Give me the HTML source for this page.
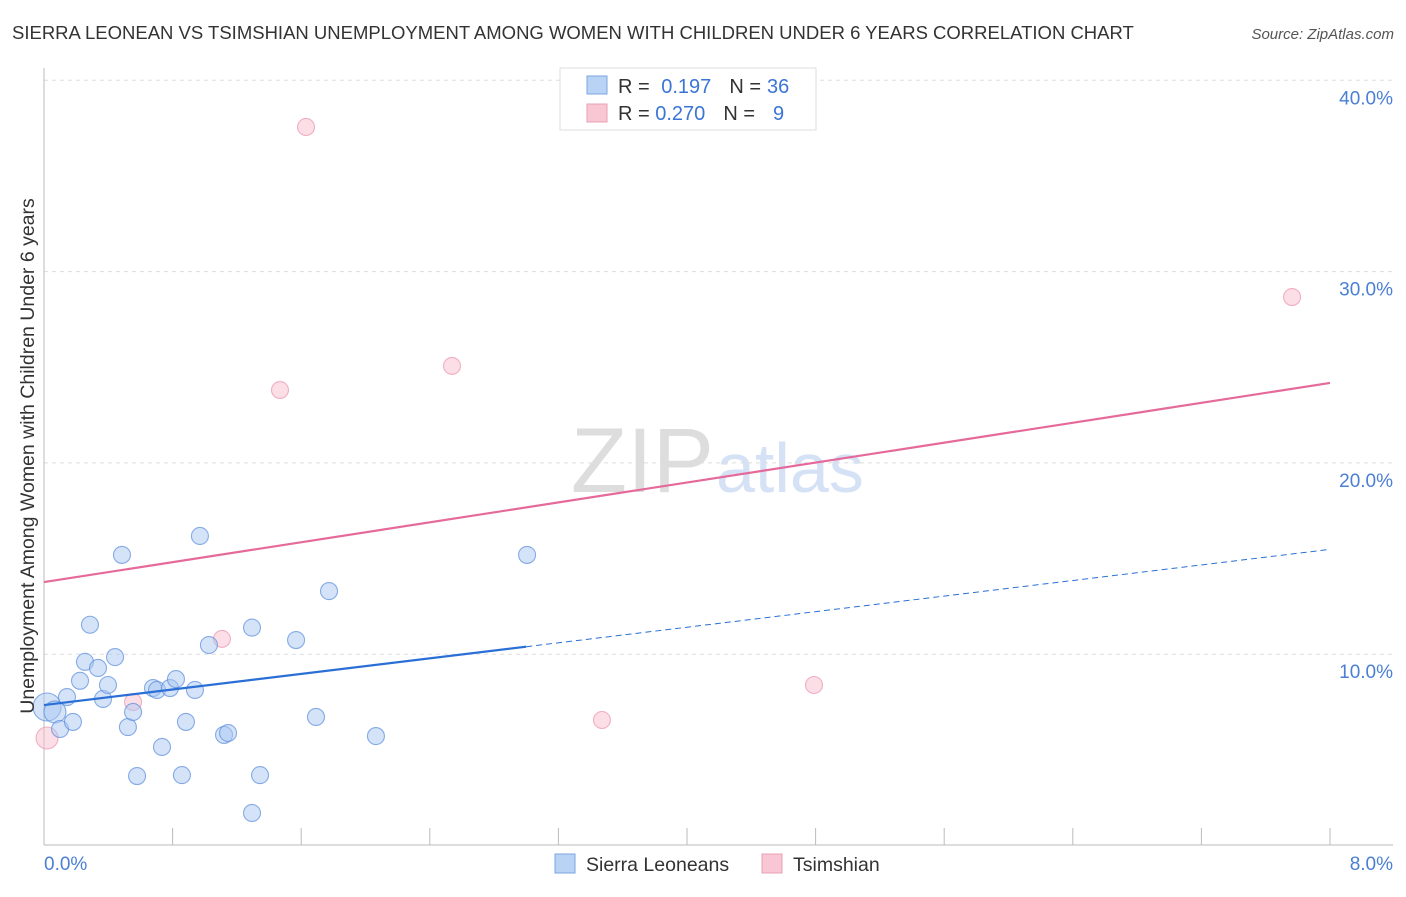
<!DOCTYPE html>
<html><head><meta charset="utf-8"><style>
body{margin:0;background:#fff;font-family:"Liberation Sans",sans-serif}
svg text{font-family:"Liberation Sans",sans-serif}
</style></head><body>
<svg id="chart" width="1406" height="892">
<text x="12" y="39" font-size="18.5" fill="#333">SIERRA LEONEAN VS TSIMSHIAN UNEMPLOYMENT AMONG WOMEN WITH CHILDREN UNDER 6 YEARS CORRELATION CHART</text>
<text x="1394" y="39" font-size="15" fill="#555" font-style="italic" text-anchor="end">Source: ZipAtlas.com</text>
<text x="714" y="492" font-size="92" fill="#ddd" text-anchor="end" font-family="Liberation Serif">ZIP</text>
<text x="716" y="492" font-size="70" fill="#d5e2f5">atlas</text>
<g id="grid"></g><g id="axes"></g><g id="marks"></g>
<text transform="translate(34,456) rotate(-90)" font-size="19.5" fill="#333" text-anchor="middle">Unemployment Among Women with Children Under 6 years</text>
<text x="44" y="870" font-size="19" fill="#4a7fd4">0.0%</text>
<text x="1393" y="870" font-size="19" fill="#4a7fd4" text-anchor="end">8.0%</text>
<g>
<rect x="560" y="68" width="256" height="62" fill="#fff" stroke="#ddd"/>
<rect x="587" y="76" width="20" height="18" fill="#b9d3f5" stroke="#7aa6e0"/>
<rect x="587" y="104" width="20" height="18" fill="#f9c6d3" stroke="#e9a0b5"/>
<text x="618" y="93" font-size="20" fill="#333">R = <tspan fill="#3a75d6" dx="6">0.197</tspan><tspan dx="18">N =</tspan><tspan fill="#3a75d6" dx="6">36</tspan></text>
<text x="618" y="120" font-size="20" fill="#333">R = <tspan fill="#3a75d6">0.270</tspan><tspan dx="18">N =</tspan><tspan fill="#3a75d6" dx="18">9</tspan></text>
</g>
<g>
<rect x="555" y="854" width="20" height="19" fill="#b9d3f5" stroke="#7aa6e0"/>
<text x="586" y="871" font-size="19.5" fill="#333">Sierra Leoneans</text>
<rect x="762" y="854" width="20" height="19" fill="#f9c6d3" stroke="#e9a0b5"/>
<text x="793" y="871" font-size="19.5" fill="#333">Tsimshian</text>
</g>
</svg>
<script>
const yTicks=[10,20,30,40];
const yTickLabels=["10.0%","20.0%","30.0%","40.0%"];
const blueX=[0.019,0.068,0.143,0.10,0.18,0.224,0.255,0.286,0.336,0.367,0.398,0.442,0.485,0.522,0.554,0.579,0.678,0.703,0.734,0.784,0.821,0.858,0.883,0.939,0.97,1.026,1.12,1.145,1.294,1.294,1.344,1.568,1.692,1.773,2.065,3.005];
const blueY=[7.24,6.98,7.76,6.09,6.46,8.61,9.60,11.54,9.28,7.66,8.39,9.85,15.19,6.19,6.98,3.63,8.23,8.13,5.15,8.23,8.70,3.68,6.46,8.13,16.18,10.48,5.78,5.88,1.70,11.39,3.68,10.74,6.72,13.30,5.72,15.19];
const pinkX=[0.019,0.554,1.107,1.468,1.63,2.538,3.471,4.79,7.764];
const pinkY=[5.62,7.50,10.80,23.81,37.56,25.07,6.56,8.39,28.67];
const blueTrend=[7.34,15.48];
const pinkTrend=[13.77,24.18];
const X0=44,X1=1330;
const sx=v=>X0+v/8*(X1-X0);
const sy=v=>845.5-v*19.13;
const NS="http://www.w3.org/2000/svg";
function mk(tag,attrs,parent){const e=document.createElementNS(NS,tag);for(const k in attrs)e.setAttribute(k,attrs[k]);document.getElementById(parent).appendChild(e);return e;}
yTicks.forEach((t,i)=>{
 const l=mk('line',{x1:X0,x2:1393,y1:sy(t),y2:sy(t),stroke:'#ddd','stroke-dasharray':'4,4'},'grid');
 
 
 const tx=mk('text',{x:1393,y:sy(t)+24,'font-size':19,fill:'#4a7fd4','text-anchor':'end'},'grid');
 tx.textContent=yTickLabels[i];
 
 
});
const ax=mk('line',{x1:X0,x2:X0,y1:68,y2:845,stroke:'#bbb'},'axes');


const bx=mk('line',{x1:X0,x2:1393,y1:845,y2:845,stroke:'#bbb'},'axes');


for(let i=0;i<=10;i++){const t=mk('line',{x1:sx(i*0.8),x2:sx(i*0.8),y1:828,y2:845,stroke:'#bbb'},'axes');
 
 }
function dot(x,y,r,fill,stroke,name){const c=mk('circle',{cx:sx(x),cy:sy(y),r:r,fill:fill,stroke:stroke,'stroke-width':1.1},'marks');
 
 }
pinkX.forEach((x,i)=>dot(x,pinkY[i],i===0?11:8.5,'rgba(249,190,206,0.5)','rgba(233,140,170,0.65)','tsimshian-point'));
blueX.forEach((x,i)=>dot(x,blueY[i],i===0?14:(i===1?11:8.5),'rgba(170,200,242,0.5)','rgba(90,140,220,0.7)','sierra-leonean-point'));
const by=v=>blueTrend[0]+(blueTrend[1]-blueTrend[0])*v/8;
const py=v=>pinkTrend[0]+(pinkTrend[1]-pinkTrend[0])*v/8;
const b1=mk('line',{x1:sx(0),y1:sy(by(0)),x2:sx(3.0),y2:sy(by(3.0)),stroke:'#2a6fd6','stroke-width':2.2},'marks');


const b2=mk('line',{x1:sx(3.0),y1:sy(by(3.0)),x2:sx(8),y2:sy(by(8)),stroke:'#2a6fd6','stroke-width':1,'stroke-dasharray':'6,4'},'marks');


const p1=mk('line',{x1:sx(0),y1:sy(py(0)),x2:sx(8),y2:sy(py(8)),stroke:'#e5699a','stroke-width':2.2},'marks');


</script>
</body></html>
